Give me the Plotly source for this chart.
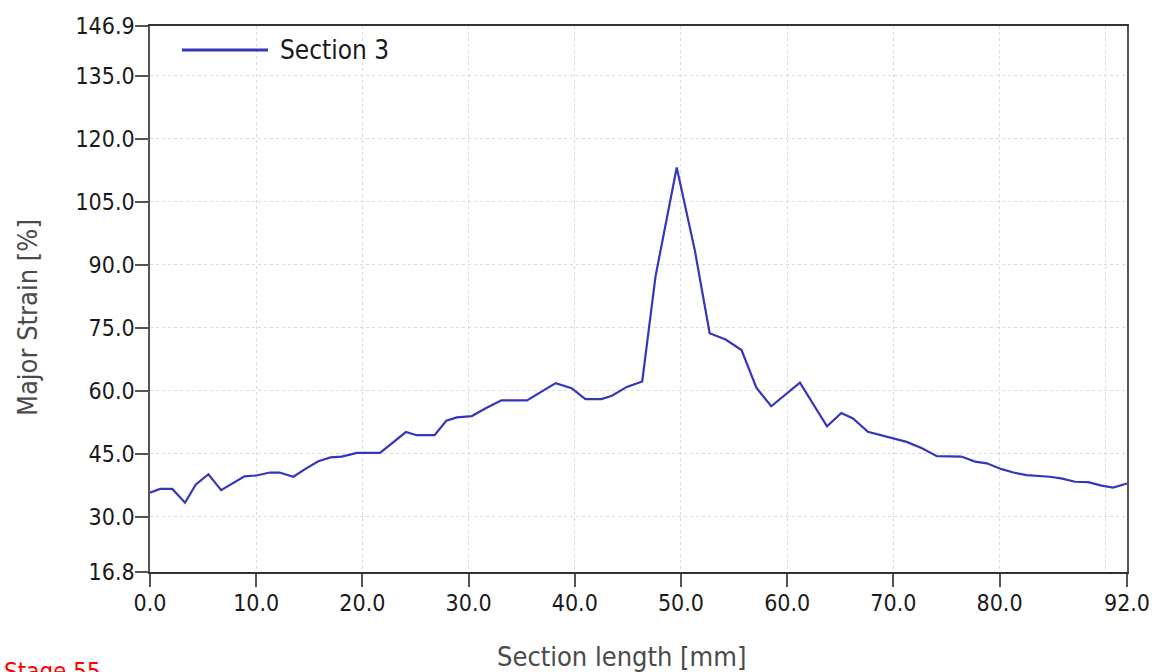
import plotly.graph_objects as go

# ---- data ----
section_length_mm = [
    0.0, 0.94, 2.1, 3.3, 4.3, 5.5, 6.7, 7.75, 8.9, 10.0,
    11.3, 12.2, 13.5, 14.6, 15.85, 17.0, 18.05, 19.5, 21.66, 24.1,
    25.1, 26.8, 27.9, 28.9, 30.3, 31.7, 33.1, 35.5, 36.9, 38.2,
    39.7, 41.0, 42.5, 43.5, 44.9, 46.35, 47.6, 49.6, 51.3, 52.7,
    54.2, 55.7, 57.1, 58.5, 61.2, 63.75, 65.1, 66.2, 67.6, 69.7,
    71.25, 72.7, 74.1, 76.4, 77.7, 78.8, 80.2, 81.3, 82.55, 84.7,
    85.8, 87.1, 88.35, 89.6, 90.7, 92.0,
]
major_strain_pct = [
    35.7, 36.6, 36.6, 33.3, 37.6, 40.1, 36.3, 37.8, 39.6, 39.8,
    40.5, 40.5, 39.5, 41.3, 43.2, 44.1, 44.3, 45.2, 45.2, 50.15,
    49.4, 49.4, 52.85, 53.65, 53.96, 55.94, 57.7, 57.7, 59.9, 61.8,
    60.6, 58.0, 58.0, 58.8, 60.9, 62.2, 87.2, 113.2, 93.5, 73.7,
    72.2, 69.7, 60.7, 56.3, 61.9, 51.5, 54.7, 53.4, 50.2, 48.9,
    47.8, 46.3, 44.4, 44.3, 43.1, 42.7, 41.3, 40.5, 39.9, 39.5,
    39.1, 38.3, 38.2, 37.4, 36.9, 37.9,
]
series_name = "Section 3"

x_tick_vals = [0, 10, 20, 30, 40, 50, 60, 70, 80, 92]
x_grid_vals = [10, 20, 30, 40, 50, 60, 70, 80, 90]
y_tick_vals = [16.8, 30, 45, 60, 75, 90, 105, 120, 135, 146.9]
y_grid_vals = [30, 45, 60, 75, 90, 105, 120, 135]
x_range = [0, 92]
y_range = [16.8, 146.9]

LINE_COLOR = "#3636b8"
FONT = "DejaVu Sans Condensed, DejaVu Sans, sans-serif"

fig = go.Figure()
fig.add_trace(go.Scatter(
    x=section_length_mm, y=major_strain_pct, mode="lines", name=series_name,
    line=dict(color=LINE_COLOR, width=2.2), showlegend=False,
))

axis_common = dict(
    showgrid=False, zeroline=False, showline=True, mirror=True,
    ticks="outside", ticklen=13, tickwidth=1.5, tickcolor="#555555",
    tickfont=dict(family=FONT, size=23, color="#1a1a1a"),
    tickformat=".1f", automargin=False, ticklabeloverflow="allow",
)
fig.update_xaxes(
    range=x_range, tickmode="array", tickvals=x_tick_vals,
    linecolor="#333333", linewidth=1.5, ticklabelstandoff=-3,
    minor=dict(tickvals=x_grid_vals, showgrid=True, griddash="dot",
               gridcolor="#dadada", gridwidth=1, ticks=""),
    **axis_common,
)
fig.update_yaxes(
    range=y_range, tickmode="array", tickvals=y_tick_vals,
    linecolor="#555555", linewidth=1.5, ticklabelstandoff=-4,
    minor=dict(tickvals=y_grid_vals, showgrid=True, griddash="dot",
               gridcolor="#dadada", gridwidth=1, ticks=""),
    **axis_common,
)

W, H = 1155, 672
L, R, T, B = 150, 28, 26, 100
pw, ph = W - L - R, H - T - B

def px_x(p):
    return (p - L) / pw

def px_y(p):
    return (H - B - p) / ph

# custom legend (line sample + label)
fig.add_shape(type="line", xref="paper", yref="paper",
              x0=px_x(182), x1=px_x(268), y0=px_y(50), y1=px_y(50),
              line=dict(color=LINE_COLOR, width=3))
fig.add_annotation(xref="paper", yref="paper", x=px_x(278), y=px_y(50),
                   xanchor="left", yanchor="middle", showarrow=False,
                   text=series_name, font=dict(family=FONT, size=26, color="#1a1a1a"))

# axis titles
fig.add_annotation(xref="paper", yref="paper", x=px_x(621), y=px_y(657),
                   xanchor="center", yanchor="middle", showarrow=False,
                   text="Section length [mm]",
                   font=dict(family=FONT, size=27, color="#4a4a4a"))
fig.add_annotation(xref="paper", yref="paper", x=px_x(27), y=px_y(318),
                   xanchor="center", yanchor="middle", showarrow=False,
                   textangle=-90, text="Major Strain [%]",
                   font=dict(family=FONT, size=27, color="#4a4a4a"))
# stage label (cut at the bottom edge, as in the reference)
fig.add_annotation(xref="paper", yref="paper", x=px_x(2), y=px_y(656),
                   xanchor="left", yanchor="top", showarrow=False,
                   text="Stage 55", font=dict(family=FONT, size=24, color="#ff0000"))

fig.update_layout(
    width=W, height=H,
    margin=dict(l=L, r=R, t=T, b=B, autoexpand=False),
    plot_bgcolor="white", paper_bgcolor="white",
    showlegend=False,
)

fig.write_html("out.html")
